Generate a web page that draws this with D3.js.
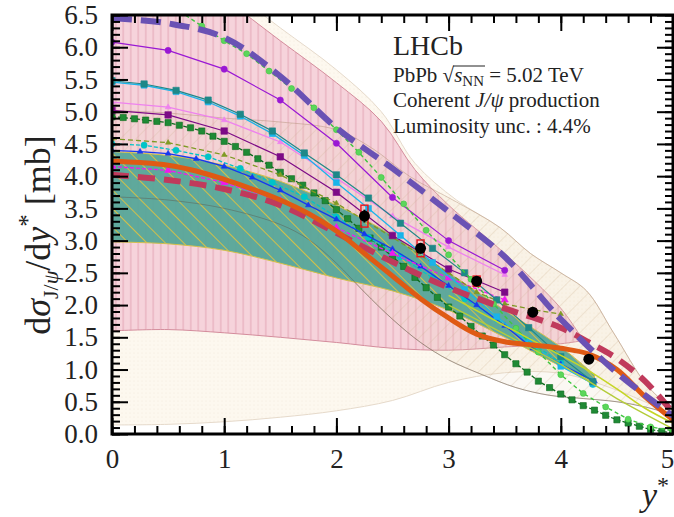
<!DOCTYPE html>
<html>
<head>
<meta charset="utf-8">
<script src="https://cdn.jsdelivr.net/npm/d3@7"></script>
<style>
body { margin: 0; background: #fff; }
text { font-family: "Liberation Serif", "DejaVu Serif", serif; fill: #222; }
</style>
</head>
<body>
<div id="chart"></div>
<script>
const margin = { top: 15, right: 1, bottom: 83, left: 112 };
const width = 674 - margin.left - margin.right;
const height = 517 - margin.top - margin.bottom;

// measured points (LHCb)
const dataX = [2.25, 2.75, 3.25, 3.75, 4.25];
const dataY = [3.38, 2.88, 2.37, 1.89, 1.16];
const dataStat = [0.1, 0.08, 0.07, 0.06, 0.05];
const dataSyst = [0.17, 0.13, 0.08, 0.05, 0.03];

// theory bands [y*, value]
const bandCreamLo = [[0,0.14],[0.5,0.15],[1,0.19],[1.5,0.26],[2,0.36],[2.5,0.52],[3,0.8],[3.5,0.95],[4,0.94],[4.5,0.68],[5,0.3]];
const bandCreamHi = [[0,7.8],[0.5,7.5],[1,6.95],[1.5,6.3],[2,5.65],[2.4,5.0],[2.7,4.2],[3.07,3.63],[3.46,3.2],[3.73,2.8],[4,2.5],[4.23,2.22],[4.47,1.57],[4.77,0.75],[5,0.38]];
const bandPinkLo = [[0,1.6],[0.5,1.62],[1,1.57],[1.5,1.5],[2,1.42],[2.5,1.33],[3,1.3],[3.5,1.35],[4,1.4],[4.2,1.45]];
const bandPinkHi = [[0,7.6],[0.5,7.3],[1,6.75],[1.5,6.1],[2,5.45],[2.4,4.85],[2.7,4.1],[3,3.55],[3.5,2.8],[4,1.95],[4.2,1.45]];
const bandTanLo = [[0,3.68],[0.5,3.63],[1,3.5],[1.5,3.25],[1.75,3.02],[2,2.65],[2.25,2.2],[2.5,1.78],[2.75,1.42],[3,1.15],[3.3,0.92],[3.6,0.72],[3.9,0.6],[4.2,0.55],[4.5,0.5],[4.75,0.42],[5,0.3]];
const bandTanHi = [[0,5.02],[0.5,4.98],[1,4.9],[1.5,4.84],[2,4.72],[2.33,4.42],[2.65,4.0],[3.07,3.6],[3.46,3.2],[3.73,2.8],[4,2.5],[4.23,2.22],[4.47,1.57],[4.77,0.75],[5,0.38]];
const bandTealLo = [[0,2.98],[0.5,2.95],[1,2.85],[1.5,2.65],[2,2.42],[2.5,2.22],[3,1.92],[3.5,1.5],[4,1.05],[4.3,0.8]];
const bandTealHi = [[0,4.38],[0.5,4.32],[1,4.17],[1.5,3.92],[2,3.55],[2.5,3.08],[3,2.5],[3.5,1.92],[4,1.35],[4.3,0.92]];

// theory curves [y*, value]
const curveDarkGreen = [[0,4.92],[0.1,4.91],[0.2,4.89],[0.3,4.87],[0.4,4.85],[0.5,4.83],[0.6,4.79],[0.7,4.75],[0.8,4.7],[0.9,4.62],[1,4.54],[1.1,4.46],[1.2,4.37],[1.3,4.27],[1.4,4.17],[1.5,4.06],[1.6,3.96],[1.7,3.86],[1.8,3.74],[1.9,3.62],[2,3.48],[2.1,3.34],[2.2,3.19],[2.3,3.04],[2.4,2.9],[2.5,2.75],[2.6,2.6],[2.7,2.43],[2.8,2.27],[2.9,2.12],[3,1.97],[3.1,1.83],[3.2,1.67],[3.3,1.52],[3.4,1.38],[3.5,1.23],[3.6,1.09],[3.7,0.96],[3.8,0.82],[3.9,0.72],[4,0.62],[4.1,0.53],[4.2,0.44],[4.3,0.37],[4.4,0.29],[4.5,0.22],[4.6,0.17],[4.7,0.12],[4.8,0.07],[4.9,0.04],[5,0.02]];
const curveTurquoise = [[0,4.5],[0.286,4.48],[0.571,4.4],[0.857,4.3],[1.143,4.12],[1.429,3.9],[1.714,3.68],[2,3.37],[2.286,3.05],[2.571,2.75],[2.857,2.42],[3.143,2.1],[3.429,1.78],[3.714,1.45],[4,1.1],[4.286,0.77]];
const curveBlue = [[0,4.4],[0.25,4.38],[0.5,4.35],[0.75,4.27],[1,4.15],[1.25,3.98],[1.5,3.78],[1.75,3.55],[2,3.33],[2.25,3.1],[2.5,2.87],[2.75,2.6],[3,2.3],[3.25,2.0],[3.5,1.68],[3.75,1.33],[4,1.08],[4.3,0.82]];
const curveMagenta = [[0,4.15],[0.5,4.09],[1,3.9],[1.5,3.62],[2,3.2],[2.5,2.8],[3,2.42],[3.5,2.08]];
const curveOlive = [[0,4.58],[0.5,4.52],[1,4.33],[1.5,4.02],[2,3.58],[2.5,3.05],[3,2.5],[3.25,2.2],[3.5,2.02],[3.75,1.93],[4,1.86]];
const curvePurpleSq = [[0,5.02],[0.5,4.95],[1,4.7],[1.5,4.3],[2,3.75],[2.5,3.08],[3,2.56],[3.5,2.2]];
const curveViolet = [[0,5.15],[0.5,5.07],[1,4.87],[1.5,4.53],[2,3.97],[2.5,3.38],[3,2.9],[3.5,2.47]];
const curveSky = [[0,5.46],[0.286,5.41],[0.571,5.31],[0.857,5.15],[1.143,4.93],[1.429,4.66],[1.714,4.32],[2,3.9],[2.286,3.5],[2.571,3.08],[2.857,2.66],[3.143,2.24],[3.429,1.82],[3.714,1.42],[4,1.05],[4.286,0.78]];
const curveTeal = [[0,5.48],[0.286,5.43],[0.571,5.33],[0.857,5.18],[1.143,4.96],[1.429,4.7],[1.714,4.36],[2,4.02],[2.286,3.66],[2.571,3.27],[2.857,2.88],[3.143,2.5],[3.429,2.08],[3.714,1.65],[4,1.2],[4.286,0.81]];
const curveViolCirc = [[0,6.08],[0.5,5.95],[1,5.66],[1.5,5.18],[2,4.51],[2.5,3.67],[3,3.0],[3.5,2.54]];
const curveLime = [[0,7.1],[0.2,7.0],[0.4,6.8],[0.6,6.56],[0.8,6.33],[1,6.1],[1.2,5.9],[1.4,5.63],[1.6,5.36],[1.8,5.06],[2,4.72],[2.2,4.37],[2.4,3.98],[2.6,3.57],[2.8,3.16],[3,2.78],[3.2,2.4],[3.4,2.02],[3.6,1.64],[3.8,1.27],[4,0.92],[4.2,0.63],[4.4,0.42],[4.6,0.23],[4.8,0.11],[5,0.05]];
const curveYellowA = [[3,2.15],[3.5,1.68],[4,1.22],[4.25,0.98],[4.5,0.7],[4.75,0.4],[5,0.17]];
const curveYellowB = [[3,2.0],[3.5,1.55],[4,1.08],[4.5,0.55],[5,0.08]];
const curveCrimson = [[0,4.02],[0.5,3.94],[1,3.8],[1.5,3.55],[2,3.12],[2.5,2.67],[3,2.27],[3.5,1.95],[4,1.65],[4.25,1.42],[4.5,1.17],[4.75,0.82],[5,0.33]];
const curveOrange = [[0,4.23],[0.25,4.21],[0.5,4.17],[0.75,4.08],[1,3.95],[1.25,3.8],[1.5,3.63],[1.75,3.42],[2,3.15],[2.25,2.8],[2.5,2.45],[2.75,2.1],[3,1.8],[3.25,1.55],[3.5,1.43],[3.75,1.38],[4,1.33],[4.25,1.24],[4.5,1.0],[4.75,0.58],[5,0.22]];
const curvePurpleDash = [[0,6.45],[0.5,6.37],[1,6.15],[1.5,5.55],[2,4.75],[2.5,4.12],[3,3.45],[3.5,2.75],[4,1.78],[4.5,0.95],[5,0.28]];

const yMajor = d3.range(0, 6.51, 0.5);
const yMinor = d3.range(0, 6.51, 0.1);
const xMajor = [0, 1, 2, 3, 4, 5];
const xMinor = d3.range(0, 5.01, 0.2);

const svg = d3.select("#chart").append("svg")
    .attr("width", 674)
    .attr("height", 517);

const defs = svg.append("defs");
defs.append("clipPath").attr("id", "clip")
    .append("rect").attr("width", width).attr("height", height);

function hatch(id, size, bg, stroke, sw, angle) {
    const p = defs.append("pattern")
        .attr("id", id)
        .attr("patternUnits", "userSpaceOnUse")
        .attr("width", size).attr("height", size)
        .attr("patternTransform", `rotate(${angle})`);
    p.append("rect").attr("width", size).attr("height", size).attr("fill", bg);
    p.append("line").attr("x1", size / 2).attr("x2", size / 2)
        .attr("y1", 0).attr("y2", size)
        .attr("stroke", stroke).attr("stroke-width", sw);
}
hatch("pinkHatch", 7.5, "#f6d3db", "#e4a6b6", 1, 0);
hatch("tanHatch", 11, "rgba(232,212,180,0.16)", "rgba(205,180,145,0.32)", 0.8, 45);
hatch("tealHatch", 13, "rgba(84,166,152,0.93)", "#d2c048", 1, -45);

const dots = defs.append("pattern").attr("id", "creamDots")
    .attr("patternUnits", "userSpaceOnUse").attr("width", 4).attr("height", 4);
dots.append("rect").attr("width", 4).attr("height", 4).attr("fill", "#fdf8ef");
dots.append("circle").attr("cx", 2).attr("cy", 2).attr("r", 0.5).attr("fill", "#f3e9da");

const g = svg.append("g")
    .attr("transform", `translate(${margin.left},${margin.top})`);

const x = d3.scaleLinear().domain([0, 5]).range([0, width]);
const y = d3.scaleLinear().domain([0, 6.5]).range([height, 0]);

const plot = g.append("g").attr("clip-path", "url(#clip)");

const smooth = d3.line()
    .x(d => x(d[0]))
    .y(d => y(d[1]))
    .curve(d3.curveCatmullRom.alpha(0.5));

function band(lo, hi, fill, edge) {
    const d = smooth(hi) + smooth(lo.slice().reverse()).replace(/^M/, "L") + "Z";
    plot.append("path").attr("d", d)
        .attr("fill", fill)
        .attr("stroke", edge)
        .attr("stroke-width", 1);
}

band(bandCreamLo, bandCreamHi, "url(#creamDots)", "#e6dacb");
band(bandPinkLo, bandPinkHi, "url(#pinkHatch)", "#d48c9c");
band(bandTanLo, bandTanHi, "url(#tanHatch)", "rgba(175,140,115,0.45)");
band(bandTealLo, bandTealHi, "url(#tealHatch)", "#d4c04a");

// lower edge of the tan band shows through the teal one
plot.append("path")
    .attr("d", smooth(bandTanLo))
    .attr("fill", "none")
    .attr("stroke", "rgba(95,90,80,0.45)")
    .attr("stroke-width", 1);

const poly = d3.line()
    .x(d => x(d[0]))
    .y(d => y(d[1]));

function curve(data, color, sw, dash, shape, size, fill, smoothIt) {
    plot.append("path")
        .attr("d", smoothIt ? smooth(data) : poly(data))
        .attr("fill", "none")
        .attr("stroke", color)
        .attr("stroke-width", sw)
        .attr("stroke-dasharray", dash);
    if (shape) {
        plot.selectAll(null)
            .data(data)
            .enter().append("path")
            .attr("transform", d => `translate(${x(d[0])},${y(d[1])})`)
            .attr("d", d3.symbol().type(shape).size(size))
            .attr("fill", fill || color)
            .attr("stroke", color)
            .attr("stroke-width", 0.6);
    }
}

curve(curveDarkGreen, "#0d6a1c", 1.3, "4,2", d3.symbolSquare, 38, "#1f8a35");
curve(curveTurquoise, "#00c4c8", 1.3, "4,2", d3.symbolCircle, 30);
curve(curveBlue, "#1638f0", 1.3, null, d3.symbolTriangle, 14);
curve(curveMagenta, "#f018f0", 1.3, "4,2", d3.symbolTriangle, 22);
curve(curveOlive, "#7f9a24", 1.3, "5,3", d3.symbolTriangle, 12);
curve(curvePurpleSq, "#7c0a86", 1.2, null, d3.symbolSquare, 42);
curve(curveViolet, "#ee82ee", 1.3, null, d3.symbolTriangle, 14);
curve(curveSky, "#1ab4ea", 1.3, null, d3.symbolSquare, 34);
curve(curveTeal, "#1e8888", 1.2, null, d3.symbolSquare, 40);
curve(curveViolCirc, "#9a18d4", 1.2, null, d3.symbolCircle, 30);
curve(curveLime, "#3ec63e", 1.4, "4,3", d3.symbolCircle, 28, "#5bd65b");
curve(curveYellowA, "#c6d626", 1.6, null, null, 0, null, true);
curve(curveYellowB, "#b4cc3a", 1.4, null, null, 0, null, true);
curve(curveCrimson, "#c03a5c", 6, "17,9", null, 0, null, true);
curve(curveOrange, "#df5a14", 5, null, null, 0, null, true);
curve(curvePurpleDash, "#6a52b4", 6, "20,9", null, 0, null, true);

// data points
const pts = g.append("g");
pts.selectAll(".syst")
    .data(dataX)
    .enter().append("rect")
    .attr("x", d => x(d) - 3.5)
    .attr("y", (d, i) => y(dataY[i] + dataSyst[i]))
    .attr("width", 7)
    .attr("height", (d, i) => y(dataY[i] - dataSyst[i]) - y(dataY[i] + dataSyst[i]))
    .attr("fill", "none")
    .attr("stroke", "#e8141c")
    .attr("stroke-width", 1.4);
pts.selectAll(".stat")
    .data(dataX)
    .enter().append("line")
    .attr("x1", d => x(d)).attr("x2", d => x(d))
    .attr("y1", (d, i) => y(dataY[i] + dataStat[i]))
    .attr("y2", (d, i) => y(dataY[i] - dataStat[i]))
    .attr("stroke", "#000").attr("stroke-width", 2);
pts.selectAll(".pt")
    .data(dataX)
    .enter().append("circle")
    .attr("cx", d => x(d))
    .attr("cy", (d, i) => y(dataY[i]))
    .attr("r", 5.5)
    .attr("fill", "#000");

// axes with inward ticks
function styleAxis(sel) {
    sel.select(".domain").remove();
    sel.selectAll("line").attr("stroke", "#000").attr("stroke-width", 2);
    sel.selectAll("text").style("font-size", "27px").attr("fill", "#222")
        .style("font-family", "'Liberation Serif', serif");
}

g.append("g").call(d3.axisLeft(y).tickValues(yMinor).tickSize(-8).tickFormat("")).call(styleAxis);
g.append("g").call(d3.axisLeft(y).tickValues(yMajor).tickSize(-16).tickPadding(14).tickFormat(d3.format(".1f"))).call(styleAxis);
g.append("g").attr("transform", `translate(${width},0)`)
    .call(d3.axisRight(y).tickValues(yMinor).tickSize(-8).tickFormat("")).call(styleAxis);
g.append("g").attr("transform", `translate(${width},0)`)
    .call(d3.axisRight(y).tickValues(yMajor).tickSize(-16).tickFormat("")).call(styleAxis);
g.append("g").attr("transform", `translate(0,${height})`)
    .call(d3.axisBottom(x).tickValues(xMinor).tickSize(-8).tickFormat("")).call(styleAxis);
const xAx = g.append("g").attr("transform", `translate(0,${height})`)
    .call(d3.axisBottom(x).tickValues(xMajor).tickSize(-16).tickPadding(15).tickFormat(d3.format("d"))).call(styleAxis);
// the last label sits on the window edge
xAx.selectAll("text").filter(d => d === 5).attr("dx", -6);
g.append("g")
    .call(d3.axisTop(x).tickValues(xMinor).tickSize(-8).tickFormat("")).call(styleAxis);
g.append("g")
    .call(d3.axisTop(x).tickValues(xMajor).tickSize(-16).tickFormat("")).call(styleAxis);

g.append("rect")
    .attr("width", width).attr("height", height)
    .attr("fill", "none").attr("stroke", "#000").attr("stroke-width", 3);

// axis titles
const yl = svg.append("text")
    .attr("transform", "translate(50,235) rotate(-90)")
    .attr("text-anchor", "middle")
    .style("font-size", "36px");
yl.append("tspan").text("d");
yl.append("tspan").style("font-style", "italic").text("σ");
yl.append("tspan").attr("dy", 8).style("font-size", "22px").text("J/");
yl.append("tspan").style("font-size", "22px").style("font-style", "italic").text("ψ");
yl.append("tspan").attr("dy", -8).text("/d");
yl.append("tspan").style("font-style", "italic").text("y");
yl.append("tspan").attr("dy", -14).style("font-size", "25px").text("*");
yl.append("tspan").attr("dy", 14).text(" [mb]");

const xl = svg.append("text")
    .attr("x", 642).attr("y", 506)
    .style("font-size", "34px");
xl.append("tspan").style("font-style", "italic").text("y");
xl.append("tspan").attr("dy", -13).style("font-size", "24px").text("*");

// LHCb labels
svg.append("text").attr("x", 393).attr("y", 55).style("font-size", "28px").text("LHCb");

const l1 = svg.append("text").attr("x", 393).attr("y", 82).style("font-size", "21px");
l1.append("tspan").text("PbPb ");
l1.append("tspan").text("√");
l1.append("tspan").style("font-style", "italic").text("s");
l1.append("tspan").attr("dy", 4).style("font-size", "15px").text("NN");
l1.append("tspan").attr("dy", -4).text(" = 5.02 TeV");
const ln = l1.node();
const s0 = ln.getStartPositionOfChar(6).x;
const s1 = ln.getEndPositionOfChar(8).x;
svg.append("line").attr("x1", s0 - 1).attr("x2", s1 + 1)
    .attr("y1", 66).attr("y2", 66)
    .attr("stroke", "#222").attr("stroke-width", 1);

const l2 = svg.append("text").attr("x", 393).attr("y", 107).style("font-size", "21px");
l2.append("tspan").text("Coherent ");
l2.append("tspan").style("font-style", "italic").text("J/ψ");
l2.append("tspan").text(" production");

svg.append("text").attr("x", 393).attr("y", 133).style("font-size", "21px")
    .text("Luminosity unc. : 4.4%");
</script>
</body>
</html>
